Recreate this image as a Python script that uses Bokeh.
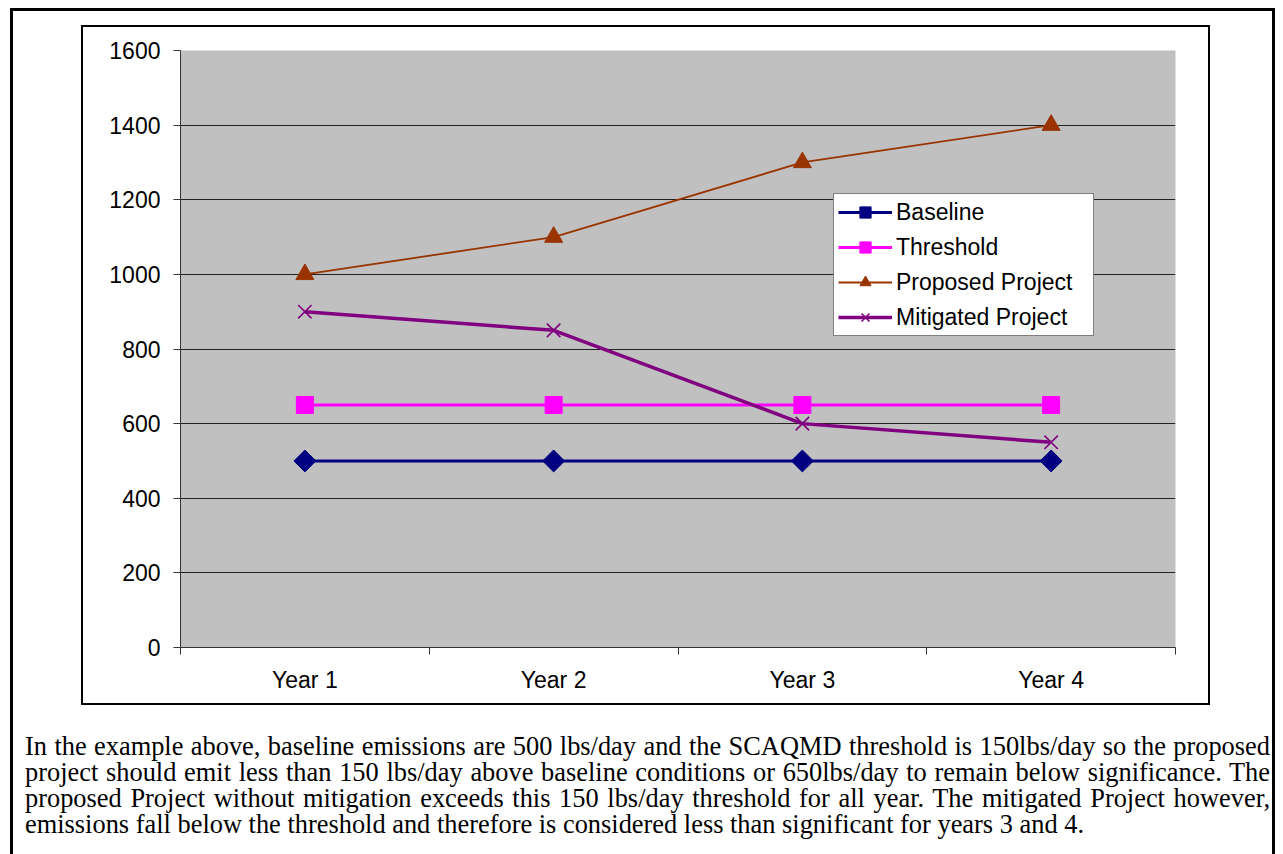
from bokeh.plotting import figure
from bokeh.layouts import column
from bokeh.models import Range1d, FixedTicker, Legend, LegendItem, Div
from bokeh.embed import file_html
from bokeh.resources import INLINE
import math

years = ["Year 1", "Year 2", "Year 3", "Year 4"]
baseline = [500, 500, 500, 500]
threshold = [650, 650, 650, 650]
proposed = [1000, 1100, 1300, 1400]
mitigated = [900, 850, 600, 550]
y_ticks = [0, 200, 400, 600, 800, 1000, 1200, 1400, 1600]

caption_lines = [
    "In the example above, baseline emissions are 500 lbs/day and the SCAQMD threshold is 150lbs/day so the proposed",
    "project should emit less than 150 lbs/day above baseline conditions or 650lbs/day to remain below significance. The",
    "proposed Project without mitigation exceeds this 150 lbs/day threshold for all year. The mitigated Project however,",
    "emissions fall below the threshold and therefore is considered less than significant for years 3 and 4.",
]

# geometry (page pixels)
OUT_L, OUT_T, OUT_W = 10, 8, 3          # outer box: left/top edge, line width
IN_L, IN_T, IN_R, IN_B, IN_W = 81, 25, 1210, 705, 2   # inner chart box
FL, FR, FT, FB = 180, 1175, 50, 647     # plot area

fig_w = (IN_R - IN_W) - (IN_L + IN_W)
fig_h = (IN_B - IN_W) - (IN_T + IN_W)

xs = [i + 0.5 for i in range(len(years))]

p = figure(width=fig_w, height=fig_h, output_backend="svg", toolbar_location=None,
           x_range=Range1d(0, len(years)), y_range=Range1d(0, 1600),
           min_border_left=FL - (IN_L + IN_W), min_border_right=(IN_R - IN_W) - FR,
           min_border_top=FT - (IN_T + IN_W), min_border_bottom=(IN_B - IN_W) - FB)
p.background_fill_color = "#C0C0C0"
p.border_fill_color = "white"
p.outline_line_color = None

SANS = "Liberation Sans"

# x axis: labels centred in categories, ticks on category boundaries
p.xaxis.ticker = FixedTicker(ticks=xs, minor_ticks=list(range(len(years) + 1)))
p.xaxis.major_label_overrides = {x: y for x, y in zip(xs, years)}
p.xaxis.major_tick_line_color = None
p.xaxis.major_tick_out = 0
p.xaxis.major_tick_in = 0
p.xaxis.minor_tick_out = 7
p.xaxis.minor_tick_in = 0
p.xaxis.minor_tick_line_color = "#333333"
p.xaxis.axis_line_color = "#333333"
p.xaxis.major_label_standoff = 12
p.xaxis.major_label_text_font = SANS
p.xaxis.major_label_text_font_size = "23px"
p.xaxis.major_label_text_color = "black"

# y axis
p.yaxis.ticker = FixedTicker(ticks=y_ticks, minor_ticks=[])
p.yaxis.major_tick_out = 7
p.yaxis.major_tick_in = 0
p.yaxis.major_tick_line_color = "#333333"
p.yaxis.axis_line_color = "#333333"
p.yaxis.major_label_standoff = 13
p.yaxis.major_label_text_font = SANS
p.yaxis.major_label_text_font_size = "23px"
p.yaxis.major_label_text_color = "black"

p.xgrid.grid_line_color = None
p.ygrid.grid_line_color = "#222222"
p.ygrid.grid_line_width = 1

# series
r1l = p.line(xs, baseline, line_color="#000080", line_width=3)
r1m = p.scatter(xs, baseline, marker="square", angle=math.pi / 4, size=15.5,
                fill_color="#000080", line_color="#000080")
r2l = p.line(xs, threshold, line_color="#FF00FF", line_width=3)
r2m = p.scatter(xs, threshold, marker="square", size=17,
                fill_color="#FF00FF", line_color="#FF00FF")
r3l = p.line(xs, proposed, line_color="#993300", line_width=1.8)
r3m = p.scatter(xs, proposed, marker="triangle", size=18,
                fill_color="#993300", line_color="#993300")
r4l = p.line(xs, mitigated, line_color="#800080", line_width=3.5)
r4m = p.scatter(xs, mitigated, marker="x", size=19,
                line_color="#800080", line_width=1.6)

legend = Legend(items=[
    LegendItem(label="Baseline", renderers=[r1l, r1m]),
    LegendItem(label="Threshold", renderers=[r2l, r2m]),
    LegendItem(label="Proposed Project", renderers=[r3l, r3m]),
    LegendItem(label="Mitigated Project", renderers=[r4l, r4m]),
], location=(833 - FL, FB - 336))
legend.border_line_color = "black"
legend.border_line_width = 1
legend.background_fill_color = "white"
legend.background_fill_alpha = 1
legend.label_text_font = SANS
legend.label_text_font_size = "23px"
legend.label_text_color = "black"
legend.glyph_width = 54
legend.glyph_height = 28
legend.label_height = 20
legend.label_width = 193
legend.label_standoff = 4
legend.spacing = 7
legend.padding = 4
legend.margin = 0
p.add_layout(legend, "center")

inner_box = column(p, styles={"border": f"{IN_W}px solid black"},
                   margin=(IN_T - (OUT_T + OUT_W), 0, 0, IN_L - (OUT_L + OUT_W)))

line_divs = []
for i, txt in enumerate(caption_lines):
    last = i == len(caption_lines) - 1
    align = "left" if last else "justify"
    line_divs.append(
        f'<div style="text-align:{align};text-align-last:{align};white-space:nowrap;">{txt}</div>')
cap_html = ('<div style="font-family:\'Liberation Serif\';font-size:26.4px;line-height:26px;'
            'color:black;width:1245px;">' + "".join(line_divs) + '</div>')
caption = Div(text=cap_html, width=1245,
              margin=(733 - IN_B, 0, 0, 25 - (OUT_L + OUT_W)))

root = column(inner_box, caption,
              styles={"border": f"{OUT_W}px solid black", "border-bottom": "none"},
              width=1280 - OUT_L - 2 * OUT_W + 1, height=900,
              margin=(OUT_T, 0, 0, OUT_L))

open("out.html", "w").write(file_html(root, INLINE))
